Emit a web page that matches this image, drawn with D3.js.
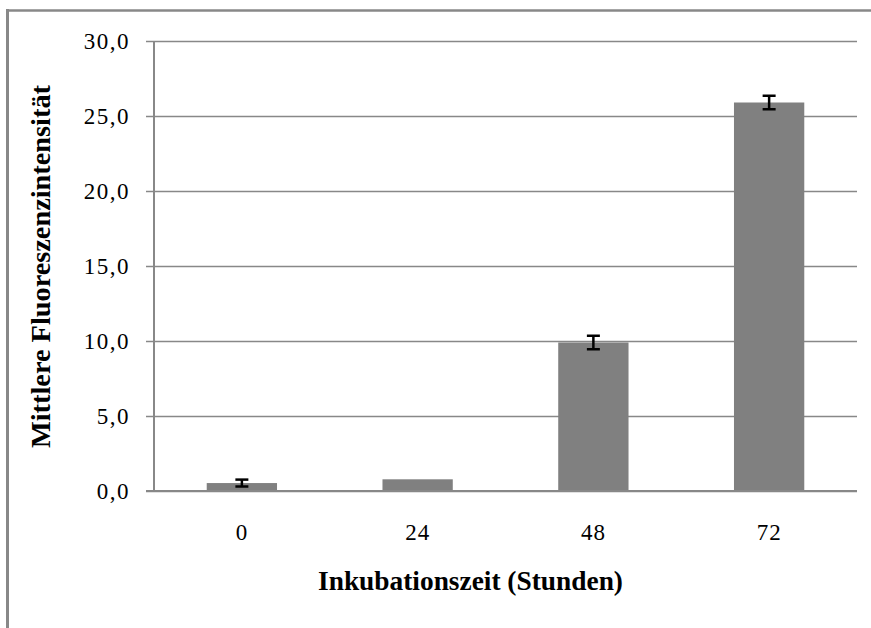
<!DOCTYPE html>
<html><head><meta charset="utf-8">
<script src="https://cdn.jsdelivr.net/npm/d3@7"></script>
<style>body{margin:0;background:#fff}svg{display:block}</style>
</head><body>
<svg id="c" width="871" height="628"></svg>
<script>
const categories = ["0", "24", "48", "72"];
const values = [0.53, 0.78, 9.9, 25.9];
const errors = [0.23, 0, 0.45, 0.45];
const yTicks = [0, 5, 10, 15, 20, 25, 30];
const xTitle = "Inkubationszeit (Stunden)";
const yTitle = "Mittlere Fluoreszenzintensität";

(function () {
const svg = d3.select("#c");
const pL = 154, pR = 857, pT = 41, pB = 491;
const font = "'Liberation Serif','Times New Roman',serif";

// outer frame (top and left edges)
svg.append("line").attr("x1", 6).attr("x2", 871).attr("y1", 10.5).attr("y2", 10.5)
  .attr("stroke", "#888").attr("stroke-width", 2.5);
svg.append("line").attr("x1", 7.5).attr("x2", 7.5).attr("y1", 9).attr("y2", 628)
  .attr("stroke", "#888").attr("stroke-width", 3);

const x = d3.scaleBand().domain(categories).range([pL, pR]).paddingInner(0.6).paddingOuter(0.3);
const y = d3.scaleLinear().domain([0, 30]).range([pB, pT]);

// gridlines + y axis
const yAxis = d3.axisLeft(y).tickValues(yTicks).tickSize(-(pR - pL)).tickSizeOuter(0)
  .tickFormat(d => d3.format(".1f")(d).replace(".", ","));
const gy = svg.append("g").attr("transform", `translate(${pL},0)`).call(yAxis);
gy.select(".domain").remove();
gy.selectAll(".tick line").attr("stroke", "#888").attr("stroke-width", 1.5).attr("x1", -8);
gy.selectAll(".tick text").attr("x", -24).attr("dy", "0.33em")
  .attr("font-family", font).attr("font-size", 23).attr("letter-spacing", 1.5).attr("fill", "#000");

// bars
svg.append("g").selectAll("rect").data(values).join("rect")
  .attr("x", (d, i) => x(categories[i]))
  .attr("width", x.bandwidth())
  .attr("y", d => y(d))
  .attr("height", d => y(0) - y(d))
  .attr("fill", "#808080");

// error bars
const eg = svg.append("g");
values.forEach((d, i) => {
  if (!(errors[i] > 0)) return;
  const cx = x(categories[i]) + x.bandwidth() / 2;
  const y1 = y(d + errors[i]), y2 = y(d - errors[i]);
  eg.append("line").attr("x1", cx).attr("x2", cx).attr("y1", y1).attr("y2", y2)
    .attr("stroke", "#000").attr("stroke-width", 2.5);
  [y1, y2].forEach(yy => eg.append("line").attr("x1", cx - 6.5).attr("x2", cx + 6.5)
    .attr("y1", yy).attr("y2", yy).attr("stroke", "#000").attr("stroke-width", 2.5));
});

// x axis
const xAxis = d3.axisBottom(x).tickSize(0).tickSizeOuter(0);
const gx = svg.append("g").attr("transform", `translate(0,${pB})`).call(xAxis);
gx.select(".domain").attr("stroke", "#888").attr("stroke-width", 2).attr("d", `M${pL - 8},0H${pR}`);
gx.selectAll(".tick text").attr("y", 49).attr("dy", 0)
  .attr("font-family", font).attr("font-size", 23).attr("letter-spacing", 1).attr("fill", "#000");

// y axis line
svg.append("line").attr("x1", pL).attr("x2", pL).attr("y1", pT).attr("y2", pB)
  .attr("stroke", "#888").attr("stroke-width", 2);

// titles
svg.append("text").attr("x", 470.5).attr("y", 590).attr("text-anchor", "middle")
  .attr("font-family", font).attr("font-weight", "bold").attr("font-size", 27.5)
  .attr("textLength", 305).attr("lengthAdjust", "spacingAndGlyphs").text(xTitle);
svg.append("text").attr("transform", `translate(50,266.5) rotate(-90)`).attr("text-anchor", "middle")
  .attr("font-family", font).attr("font-weight", "bold").attr("font-size", 27.5)
  .attr("textLength", 363).attr("lengthAdjust", "spacingAndGlyphs").text(yTitle);
})();
</script>
</body></html>
